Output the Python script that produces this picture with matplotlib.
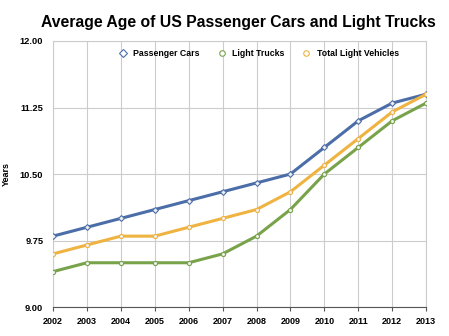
import numpy as np
import matplotlib.pyplot as plt

plt.rcParams['font.family'] = ['Liberation Sans', 'DejaVu Sans']

years = np.arange(2002, 2014)
passenger_cars = [9.8, 9.9, 10.0, 10.1, 10.2, 10.3, 10.4, 10.5, 10.8, 11.1, 11.3, 11.4]
light_trucks = [9.4, 9.5, 9.5, 9.5, 9.5, 9.6, 9.8, 10.1, 10.5, 10.8, 11.1, 11.3]
total_light = [9.6, 9.7, 9.8, 9.8, 9.9, 10.0, 10.1, 10.3, 10.6, 10.9, 11.2, 11.4]
yticks = [9.00, 9.75, 10.50, 11.25, 12.00]

fig = plt.figure(figsize=(4.49, 3.36), dpi=100)
ax = fig.add_axes([0.118, 0.086, 0.831, 0.792])

series = [
    ("Passenger Cars", passenger_cars, '#4c6ea8', 'D'),
    ("Light Trucks", light_trucks, '#78a34a', 'o'),
    ("Total Light Vehicles", total_light, '#efb341', 'o'),
]
for name, vals, col, mk in series:
    ax.plot(years, vals, color=col, lw=2.2, marker=mk, ms=3, mfc='#eeeeee',
            mec=col, mew=0.8, label=name, zorder=3)

ax.set_xlim(2002, 2013)
ax.set_ylim(9, 12)
ax.set_xticks(years)
ax.set_yticks(yticks)
ax.set_xticklabels([str(y) for y in years], fontsize=6.5, fontweight='bold')
ax.set_yticklabels(["%.2f" % v for v in yticks], fontsize=6.7, fontweight='bold')
ax.grid(color='#cccccc', lw=0.8)
ax.set_axisbelow(True)
for s in ['top', 'right', 'left']:
    ax.spines[s].set_color('#cccccc')
ax.spines['bottom'].set_color('#555555')
ax.tick_params(axis='y', length=0, pad=7)
ax.tick_params(axis='x', length=3, color='#555555', pad=4)
ax.set_ylabel("Years", fontsize=6.5, fontweight='bold')
ax.yaxis.set_label_coords(-0.112, 0.5)

fig.suptitle("Average Age of US Passenger Cars and Light Trucks", fontsize=11.3,
             fontweight='bold', x=0.53, y=0.955)

leg = ax.legend(loc='upper center', ncol=3, frameon=False, fontsize=6.3,
                bbox_to_anchor=(0.55, 1.0), handlelength=1.2, columnspacing=1.9,
                handletextpad=0.6)
for t in leg.get_texts():
    t.set_fontweight('bold')
for h in leg.legend_handles:
    h.set_linestyle('none')
    h.set_markersize(4)
    h.set_markerfacecolor('white')

fig.savefig('out.png', dpi=100)
